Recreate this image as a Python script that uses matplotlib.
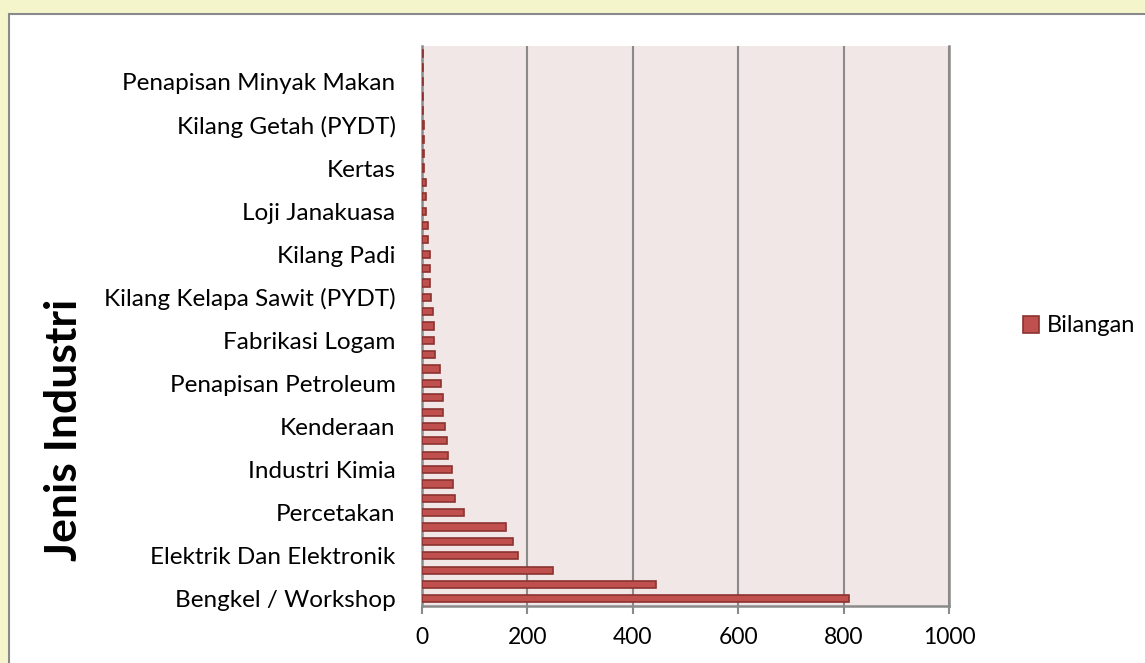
import matplotlib.pyplot as plt
from matplotlib.patches import Rectangle

# values, bottom (Bengkel / Workshop) to top
values = [811, 444, 248, 183, 172, 160, 80, 63, 58, 56,
          49, 47, 44, 40, 39, 36, 34, 25, 23, 22,
          21, 17, 16, 16, 15, 11, 11, 8, 8, 7,
          4, 3, 3, 3, 2, 2, 1, 1, 1]

# only every third category carries a visible label
labels = ['Bengkel / Workshop', 'Elektrik Dan Elektronik', 'Percetakan',
          'Industri Kimia', 'Kenderaan', 'Penapisan Petroleum',
          'Fabrikasi Logam', 'Kilang Kelapa Sawit (PYDT)', 'Kilang Padi',
          'Loji Janakuasa', 'Kertas', 'Kilang Getah (PYDT)',
          'Penapisan Minyak Makan']
label_pos = list(range(0, len(values), 3))

xticks = [0, 200, 400, 600, 800, 1000]

plt.rcParams['font.family'] = ['Lato', 'DejaVu Sans']

W, H = 1145, 663
fig = plt.figure(figsize=(W / 100, H / 100), dpi=100, facecolor='#f5f5cc')

# white chart area with grey border
fig.patches.append(Rectangle((9 / W, -0.01), 1, 1.01 - 14 / H, transform=fig.transFigure,
                             facecolor='white', edgecolor='#8a8a8a', linewidth=1.5, zorder=-10))

ax = fig.add_axes([422 / W, (H - 606) / H, 527 / W, 560 / H])
ax.set_facecolor('#f2e7e7')

pos = list(range(len(values)))
ax.barh(pos, values, height=0.5, color='#c0504d', edgecolor='#8b3330',
        linewidth=1.2, label='Bilangan', zorder=3)

ax.set_xlim(0, 1000)
ax.set_ylim(-0.5, len(values) - 0.5)
ax.set_xticks(xticks)
ax.set_xticklabels([str(t) for t in xticks], fontsize=16.5)
ax.set_yticks(label_pos)
ax.set_yticklabels(labels, fontsize=17.5)
ax.tick_params(axis='y', length=0, pad=19)
ax.tick_params(axis='x', length=6, color='#8a8a8a', width=1.5, pad=9)
ax.grid(axis='x', color='#8a8a8a', linewidth=1.5, zorder=1)

ax.spines['top'].set_visible(False)
for s in ['left', 'bottom', 'right']:
    ax.spines[s].set_color('#8a8a8a')
    ax.spines[s].set_linewidth(1.8)

fig.text(64 / W, 1 - 430 / H, 'Jenis Industri', rotation=90, fontsize=32,
         fontweight='bold', ha='center', va='center')

ax.legend(loc='center left', bbox_to_anchor=(1.1, 0.5), frameon=False,
          fontsize=17, handlelength=0.7, handleheight=0.7, handletextpad=0.3)

plt.savefig('out.png', dpi=100, facecolor=fig.get_facecolor())
